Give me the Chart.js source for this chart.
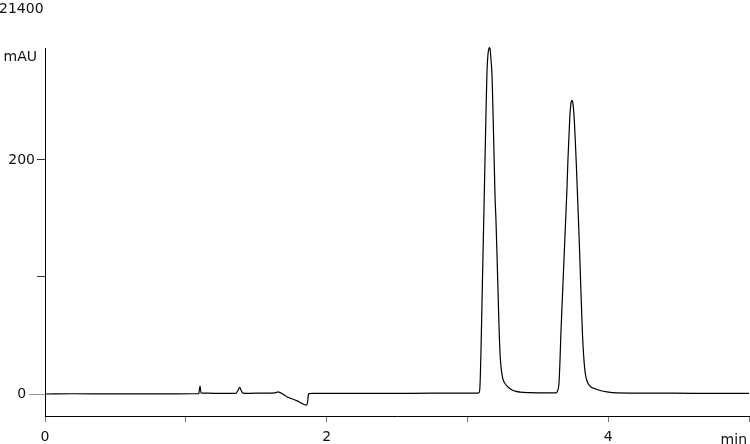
<!DOCTYPE html>
<html>
<head>
<meta charset="utf-8">
<script src="https://cdn.jsdelivr.net/npm/chart.js@4.4.1/dist/chart.umd.min.js"></script>
<style>
  html, body { margin: 0; padding: 0; background: #fff; overflow: hidden; }
  #wrap { width: 750px; height: 444px; position: relative; }
</style>
</head>
<body>
<div id="wrap"><canvas id="myChart"></canvas></div>
<script>
// Retention time (min)
const times = [
    0, 0.2, 0.5, 0.8, 1.05, 1.092, 1.097, 1.101, 1.108, 1.122, 1.2, 1.3,
    1.357, 1.370, 1.383, 1.395, 1.406, 1.45, 1.55, 1.634, 1.655, 1.717, 1.788,
    1.859, 1.866, 1.870, 1.875, 1.9, 2.2, 2.6, 3.0, 3.075,
    3.082, 3.089, 3.097, 3.104, 3.111, 3.118, 3.125, 3.132, 3.139, 3.146, 3.156,
    3.161, 3.168, 3.175, 3.182, 3.189, 3.196, 3.203, 3.210, 3.217, 3.224, 3.232,
    3.239, 3.246, 3.253, 3.267, 3.288, 3.317, 3.345, 3.374, 3.445, 3.55,
    3.629, 3.640, 3.651, 3.658, 3.665, 3.672, 3.679, 3.686, 3.693, 3.700, 3.707,
    3.714, 3.722, 3.729, 3.736, 3.741, 3.747, 3.754, 3.761, 3.768, 3.775, 3.782,
    3.789, 3.796, 3.803, 3.810, 3.817, 3.825, 3.832, 3.842, 3.857, 3.878, 3.906,
    3.942, 3.991, 4.062, 4.3, 4.6, 5.0
];
// Detector signal (mAU)
const signal = [
    0, 0.2, 0.1, 0.1, 0.2, 0.2, 4, 6.8, 1, 0.8, 0.6, 0.6,
    0.6, 3, 5.7, 2.5, 0.8, 0.6, 0.8, 1, 1.8, -2.3, -5.7,
    -9.6, -6, -1, 0.3, 0.5, 0.5, 0.6, 0.8, 0.8,
    1, 6, 40, 80, 120, 160, 200, 240, 275, 290, 296,
    295, 285, 272, 240, 205, 170, 148, 120, 90, 60, 34,
    23, 16.5, 12.5, 9, 6, 3.5, 2.2, 1.6, 1.2, 1.0,
    1.0, 2.5, 10, 30, 55, 75, 95, 115, 135, 155, 175,
    200, 222, 240, 249, 251, 250, 243, 230, 212, 192, 170,
    148, 125, 100, 75, 52, 34, 23, 14.5, 9, 6, 4.5,
    3, 1.8, 1.0, 0.8, 0.6, 0.5
];
// Axis ticks
const xTickValues = [0, 1, 2, 3, 4, 5];
const xTickLabels = ['0', '', '2', '', '4', ''];
const yTickValues = [0, 100, 200];
const yTickLabels = ['0  ', '', '200'];

const FONT = 'DejaVu Sans';

// Extra texts: run number, units, long zero tick
const textPlugin = {
    id: 'texts',
    afterDraw(chart) {
        const ctx = chart.ctx;
        const y0 = Math.round(chart.scales.y.getPixelForValue(0)) + 0.5;
        ctx.save();
        ctx.strokeStyle = '#999';
        ctx.lineWidth = 1;
        ctx.beginPath();
        ctx.moveTo(29, y0);
        ctx.lineTo(chart.chartArea.left - 8, y0);
        ctx.stroke();
        ctx.fillStyle = '#111';
        ctx.font = '14px ' + FONT;
        ctx.textBaseline = 'alphabetic';
        ctx.textAlign = 'left';
        ctx.fillText('21400', -1, 13);
        ctx.textAlign = 'right';
        ctx.fillText('mAU', 37, 61);
        ctx.fillText('min', 747, 444);
        ctx.restore();
    }
};

const points = times.map((t, i) => ({ x: t, y: signal[i] }));

const ctx = document.getElementById('myChart').getContext('2d');
const myChart = new Chart(ctx, {
    type: 'line',
    data: {
        datasets: [{
            data: points,
            borderColor: '#000',
            borderWidth: 1.2,
            pointRadius: 0,
            cubicInterpolationMode: 'monotone',
            clip: false
        }]
    },
    options: {
        responsive: true,
        maintainAspectRatio: false,
        animation: false,
        devicePixelRatio: 1,
        layout: { padding: { top: 48, right: 1, left: 0, bottom: 0 } },
        plugins: {
            legend: { display: false },
            tooltip: { enabled: false }
        },
        scales: {
            x: {
                type: 'linear',
                min: 0,
                max: 5,
                afterFit: s => {
                    s.height = 28;
                    s.paddingLeft = 0;
                    s.paddingRight = 0;
                },
                afterBuildTicks: s => { s.ticks = xTickValues.map(v => ({ value: v })); },
                ticks: {
                    autoSkip: false,
                    maxRotation: 0,
                    padding: 7,
                    color: '#111',
                    font: { family: FONT, size: 14 },
                    callback: (v) => xTickLabels[xTickValues.indexOf(v)]
                },
                grid: { drawOnChartArea: false, drawTicks: true, tickLength: 6, color: '#777' },
                border: { display: true, color: '#000', width: 1 }
            },
            y: {
                min: -18.8,
                max: 295.7,
                afterFit: s => {
                    s.width = 45;
                    s.paddingTop = 0;
                    s.paddingBottom = 0;
                },
                afterBuildTicks: s => { s.ticks = yTickValues.map(v => ({ value: v })); },
                ticks: {
                    padding: 2,
                    color: '#111',
                    font: { family: FONT, size: 14 },
                    callback: (v) => yTickLabels[yTickValues.indexOf(v)]
                },
                grid: {
                    drawOnChartArea: false,
                    drawTicks: true,
                    tickLength: 8,
                    color: (c) => (c.tick && c.tick.value === 0 ? '#999' : '#333')
                },
                border: { display: true, color: '#000', width: 1 }
            }
        }
    },
    plugins: [textPlugin]
});
</script>
</body>
</html>
